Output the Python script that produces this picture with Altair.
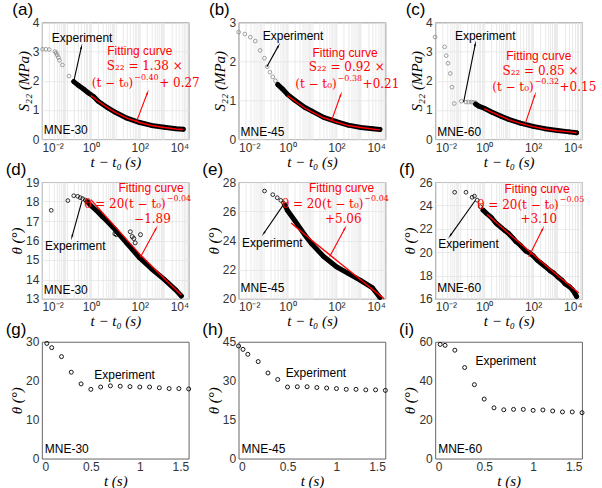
import math
import altair as alt
import pandas as pd

# ---------------- data ----------------
# (a) MNE-30, S22 vs t-t0
a_early_t = [0.0106, 0.0145, 0.02, 0.034, 0.038, 0.042, 0.047, 0.052, 0.069, 0.128, 0.2]
a_early_y = [3.08, 3.08, 3.07, 3.0, 2.95, 2.88, 2.8, 2.7, 2.54, 2.16, 1.98]
a_dense_t = [0.2, 0.3, 0.5, 0.8, 1.3, 2, 5, 10, 30, 100, 300, 1000, 3000, 6000]
a_dense_y = [1.97, 1.85, 1.72, 1.58, 1.46, 1.3, 1.07, 0.92, 0.72, 0.57, 0.47, 0.41, 0.36, 0.34]
a_fit_t = [1, 2, 5, 10, 30, 100, 300, 1000, 3000, 6000]
a_fit_y = [1.5, 1.3, 1.07, 0.92, 0.72, 0.57, 0.47, 0.4, 0.35, 0.33]

# (b) MNE-45
b_early_t = [0.01, 0.018, 0.03, 0.048, 0.076, 0.114, 0.147, 0.19, 0.25, 0.32, 0.4]
b_early_y = [2.75, 2.7, 2.62, 2.52, 2.28, 2.08, 1.86, 1.72, 1.6, 1.5, 1.42]
b_dense_t = [0.4, 0.6, 1, 2, 5, 10, 30, 100, 300, 1000, 3000, 6000]
b_dense_y = [1.4, 1.3, 1.15, 1.0, 0.82, 0.72, 0.56, 0.45, 0.36, 0.3, 0.27, 0.25]
b_fit_t = [1, 2, 5, 10, 30, 100, 300, 1000, 3000, 6000]
b_fit_y = [1.12, 0.98, 0.8, 0.7, 0.55, 0.44, 0.35, 0.3, 0.26, 0.24]

# (c) MNE-60
c_early_t = [0.0098, 0.024, 0.028, 0.033, 0.041, 0.048, 0.06, 0.116, 0.18, 0.23, 0.3, 0.36, 0.44]
c_early_y = [3.5, 3.16, 2.86, 2.6, 2.25, 1.78, 1.22, 1.3, 1.27, 1.27, 1.27, 1.26, 1.25]
c_dense_t = [0.45, 0.6, 1, 2, 5, 10, 30, 100, 300, 1000, 3000, 6000]
c_dense_y = [1.2, 1.13, 1.06, 0.93, 0.78, 0.68, 0.55, 0.44, 0.36, 0.3, 0.25, 0.22]
c_fit_t = [1, 2, 5, 10, 30, 100, 300, 1000, 3000, 6000]
c_fit_y = [1.05, 0.93, 0.78, 0.67, 0.54, 0.43, 0.35, 0.29, 0.25, 0.22]

# (d) MNE-30, theta vs t-t0
d_early_t = [0.024, 0.115, 0.2, 0.29, 0.37, 0.46, 0.59, 0.7]
d_early_y = [17.55, 18.05, 18.3, 18.27, 18.2, 18.15, 18.08, 18.0]
d_dense_t = [0.7, 1, 2, 3, 5, 10, 30, 100, 300, 1000, 3000, 5000]
d_dense_y = [18.0, 17.8, 17.45, 17.22, 16.95, 16.55, 15.85, 15.1, 14.55, 14.0, 13.45, 13.15]
d_out_t = [9.6, 11, 41, 49, 57, 65, 107]
d_out_y = [16.35, 16.3, 16.45, 16.2, 16.1, 15.88, 16.3]
d_fit_t = [1, 10, 100, 1000, 5000]
d_fit_y = [18.1, 16.7, 15.3, 14.05, 13.2]

# (e) MNE-45
e_early_t = [0.115, 0.25, 0.38, 0.53, 0.68]
e_early_y = [27.39, 27.14, 26.93, 26.75, 26.57]
e_dense_t = [0.8, 1, 2, 5, 10, 30, 100, 300, 1000, 3000, 6000]
e_dense_y = [26.4, 26.05, 25.35, 24.4, 23.75, 22.9, 22.2, 21.75, 21.25, 20.75, 20.1]
e_fit_t = [1.4, 10, 100, 1000, 9000]
e_fit_y = [25.2, 24.0, 22.65, 21.3, 20.0]

# (f) MNE-60
f_early_t = [0.062, 0.18, 0.32, 0.4, 0.52, 0.7]
f_early_y = [25.13, 25.13, 24.7, 24.8, 24.45, 23.9]
f_dense_t = [0.9, 1.2, 2, 3, 5, 7, 10, 15, 20, 30, 50, 70, 100, 150, 200, 300, 500, 700,
             1000, 1500, 2000, 3000, 4000, 5000, 6000]
f_dense_y = [23.6, 23.35, 22.95, 22.5, 22.1, 21.85, 21.6, 21.2, 20.9, 20.6, 20.1, 19.95, 19.7,
             19.3, 19.1, 18.8, 18.4, 18.2, 17.9, 17.6, 17.3, 17.05, 16.8, 16.5, 16.2]
f_fit_t = [1.3, 10, 100, 1000, 7400]
f_fit_y = [23.25, 21.6, 19.8, 18.0, 16.5]

# (g)-(i) theta vs t
g_t = [0.05, 0.1, 0.2, 0.3, 0.4, 0.5, 0.6, 0.7, 0.8, 0.9, 1.0, 1.1, 1.2, 1.3, 1.4, 1.5]
g_y = [29.6, 28.5, 26.2, 22.2, 19.2, 17.8, 18.4, 18.7, 18.6, 18.5, 18.4, 18.4, 18.2, 18.0, 18.0, 17.9]
h_t = [0.0, 0.045, 0.094, 0.2, 0.3, 0.4, 0.5, 0.6, 0.7, 0.8, 0.9, 1.0, 1.1, 1.2, 1.3, 1.4, 1.5]
h_y = [43.4, 42.1, 40.2, 37.4, 33.0, 30.5, 27.6, 27.7, 27.7, 27.4, 27.2, 27.0, 26.7, 26.7, 26.5, 26.5, 26.3]
i_t = [0.05, 0.1, 0.2, 0.3, 0.4, 0.5, 0.6, 0.7, 0.8, 0.9, 1.0, 1.1, 1.2, 1.3, 1.4, 1.5]
i_y = [58.7, 58.2, 55.7, 46.8, 38.0, 30.6, 26.1, 25.1, 25.3, 25.3, 24.8, 25.0, 24.5, 24.0, 24.0, 23.6]

# axis domains / ticks
a_ydom, a_yticks = [0, 4], [0, 1, 2, 3, 4]
b_ydom, b_yticks = [0, 3], [0, 1, 2, 3]
c_ydom, c_yticks = [0, 4], [0, 1, 2, 3, 4]
d_ydom, d_yticks = [13, 19], [13, 14, 15, 16, 17, 18, 19]
e_ydom, e_yticks = [20, 28], [20, 22, 24, 26, 28]
f_ydom, f_yticks = [16, 26], [16, 18, 20, 22, 24, 26]
g_ydom, g_yticks = [0, 30], [0, 10, 20, 30]
h_ydom, h_yticks = [0, 45], [0, 15, 30, 45]
i_ydom, i_yticks = [0, 60], [0, 20, 40, 60]
lin_xticks = [0, 0.5, 1, 1.5]

# annotation texts (x, y, text, kind); "base"/"sup"/"tail" share the anchor where the
# exponent begins
a_texts = [(0.44, 3.47, "Experiment", "exp"), (100, 3.02, "Fitting curve", "fit"),
           (160, 2.49, "S₂₂ = 1.38 ×", "frm"),
           (54, 1.93, "(t − t₀)", "base"), (54, 1.93, "−0.40", "sup"), (54, 1.93, "+ 0.27", "tail"),
           (0.012, 0.3, "MNE-30", "mne")]
b_texts = [(1.68, 2.66, "Experiment", "exp"), (225, 2.22, "Fitting curve", "fit"),
           (265, 1.85, "S₂₂ = 0.92 ×", "frm"),
           (102, 1.42, "(t − t₀)", "base"), (102, 1.42, "−0.38", "sup"), (102, 1.42, "+0.21", "tail"),
           (0.012, 0.19, "MNE-45", "mne")]
c_texts = [(1.1, 3.53, "Experiment", "exp"), (170, 2.86, "Fitting curve", "fit"),
           (200, 2.35, "S₂₂ = 0.85 ×", "frm"),
           (105, 1.78, "(t − t₀)", "base"), (105, 1.78, "−0.32", "sup"), (105, 1.78, "+0.15", "tail"),
           (0.012, 0.26, "MNE-60", "mne")]
d_texts = [(290, 18.72, "Fitting curve", "fit"),
           (1150, 17.9, "θ = 20(t − t₀)", "base"), (1150, 17.9, "−0.04", "sup"),
           (330, 17.13, "−1.89", "frm"), (0.23, 15.7, "Experiment", "exp"),
           (0.012, 13.47, "MNE-30", "mne")]
e_texts = [(162, 27.6, "Fitting curve", "fit"),
           (1260, 26.48, "θ = 20(t − t₀)", "base"), (1260, 26.48, "−0.04", "sup"),
           (190, 25.5, "+5.06", "frm"), (0.24, 23.8, "Experiment", "exp"),
           (0.012, 20.74, "MNE-45", "mne")]
f_texts = [(145, 25.4, "Fitting curve", "fit"),
           (1120, 24.03, "θ = 20(t − t₀)", "base"), (1120, 24.03, "−0.05", "sup"),
           (170, 22.8, "+3.10", "frm"), (0.23, 20.66, "Experiment", "exp"),
           (0.012, 16.93, "MNE-60", "mne")]
g_texts = [(0.845, 21.6, "Experiment", "exp"), (0.03, 2.5, "MNE-30", "mne")]
h_texts = [(0.79, 33.0, "Experiment", "exp"), (0.03, 3.8, "MNE-45", "mne")]
i_texts = [(0.72, 49.9, "Experiment", "exp"), (0.03, 5.0, "MNE-60", "mne")]

# arrows: (tail, head, colour kind)
a_arrows = [((0.2, 1.98), (0.41, 3.15), "k"), ((74, 0.61), (204, 1.58), "r")]
b_arrows = [((0.143, 1.86), (0.42, 2.39), "k"), ((64, 0.49), (150, 1.14), "r")]
c_arrows = [((0.144, 1.27), (0.43, 3.25), "k"), ((48, 0.54), (117, 1.5), "r")]
d_arrows = [((0.43, 18.02), (0.17, 16.2), "k"), ((107, 15.15), (457, 16.6), "r")]
e_arrows = [((0.73, 26.53), (0.108, 24.5), "k"), ((53, 22.9), (220, 24.83), "r")]
f_arrows = [((0.43, 24.43), (0.041, 21.42), "k"), ((66, 19.6), (245, 21.98), "r")]

# ---------------- styling / helpers ----------------
W, H = 147, 117
SANS = "Liberation Sans"
SERIF = "Liberation Serif"
MATH = "DejaVu Serif"
RED = "#ff0000"
GRAY = "#8a8a8a"

LOG_TICKS = [m * 10.0 ** e for e in range(-2, 4) for m in range(1, 10)] + [10000.0]
LOG_LABEL = ("datum.value == 0.01 ? '10⁻²' : datum.value == 1 ? '10⁰' : "
             "datum.value == 100 ? '10²' : datum.value == 10000 ? '10⁴' : ''")

TEXT_STYLE = {
    "exp": dict(font=SANS, fontSize=12, color="black", align="center"),
    "fit": dict(font=SANS, fontSize=12, color=RED, align="center"),
    "frm": dict(font=MATH, fontSize=12, color=RED, align="center"),
    "base": dict(font=MATH, fontSize=12, color=RED, align="right"),
    "sup": dict(font=MATH, fontSize=8, color=RED, align="left", dy=-5, dx=1),
    "tail": dict(font=MATH, fontSize=12, color=RED, align="left", dx=26),
    "mne": dict(font=SANS, fontSize=12, color="black", align="left"),
}


def make_panel(letter, log, ydom, yticks, ytitle, texts, arrows,
               early=None, early_color="black", dense=None, outliers=None, fit=None,
               points=None):
    if log:
        xs = alt.Scale(type="log", domain=[0.01, 10000], nice=False)
        xaxis = alt.Axis(values=LOG_TICKS, labelExpr=LOG_LABEL, title="t − t₀ (s)",
                         grid=True, gridColor="#e4e4e4", gridWidth=0.8, labelOverlap=False)
        yaxis = alt.Axis(values=yticks, title=ytitle, grid=True, gridColor="#e4e4e4",
                         gridWidth=0.8)
    else:
        xs = alt.Scale(domain=[0, 1.5], nice=False)
        xaxis = alt.Axis(values=lin_xticks, format="~g", title="t (s)", grid=False)
        yaxis = alt.Axis(values=yticks, title=ytitle, grid=False)
    ys = alt.Scale(domain=ydom, nice=False)

    def X(f="x"):
        return alt.X(f + ":Q", scale=xs, axis=xaxis)

    def Y(f="y"):
        return alt.Y(f + ":Q", scale=ys, axis=yaxis)

    def px(v):
        if log:
            return (math.log10(v) + 2) / 6 * W
        return v / 1.5 * W

    def py(v):
        return (ydom[1] - v) / (ydom[1] - ydom[0]) * H

    layers = []
    if early is not None:
        df = pd.DataFrame({"x": early[0], "y": early[1]})
        layers.append(alt.Chart(df).mark_point(shape="circle", filled=False, size=14,
                                               strokeWidth=0.8, color=early_color, opacity=1)
                      .encode(x=X(), y=Y()))
    if dense is not None:
        df = pd.DataFrame({"x": dense[0], "y": dense[1]})
        layers.append(alt.Chart(df).mark_line(color="black", strokeWidth=5, strokeCap="round",
                                              strokeJoin="round")
                      .encode(x=X(), y=Y()))
        layers.append(alt.Chart(df).mark_point(shape="circle", filled=False, size=16,
                                               strokeWidth=0.8, color="black", opacity=1)
                      .encode(x=X(), y=Y()))
    if outliers is not None:
        df = pd.DataFrame({"x": outliers[0], "y": outliers[1]})
        layers.append(alt.Chart(df).mark_point(shape="circle", filled=False, size=16,
                                               strokeWidth=0.8, color="black", opacity=1)
                      .encode(x=X(), y=Y()))
    if points is not None:
        df = pd.DataFrame({"x": points[0], "y": points[1]})
        layers.append(alt.Chart(df).mark_point(shape="circle", filled=False, size=16,
                                               strokeWidth=0.9, color="black", opacity=1)
                      .encode(x=X(), y=Y()))
    if fit is not None:
        df = pd.DataFrame({"x": fit[0], "y": fit[1]})
        layers.append(alt.Chart(df).mark_line(color=RED, strokeWidth=1.4)
                      .encode(x=X(), y=Y()))
    for tail, head, ck in arrows:
        col = "black" if ck == "k" else RED
        df = pd.DataFrame({"x": [tail[0]], "y": [tail[1]], "x2": [head[0]], "y2": [head[1]]})
        dx = px(head[0]) - px(tail[0])
        dy = py(head[1]) - py(tail[1])
        ang = (math.degrees(math.atan2(dx, -dy)) + 360) % 360
        layers.append(alt.Chart(df).mark_rule(color=col, strokeWidth=1.1)
                      .encode(x=X(), y=Y(), x2="x2:Q", y2="y2:Q"))
        layers.append(alt.Chart(df).mark_point(shape="wedge", filled=True, color=col, size=45,
                                               angle=ang, opacity=1)
                      .encode(x=X("x2"), y=Y("y2")))
    for kind in ["exp", "fit", "frm", "base", "sup", "tail", "mne"]:
        rows = [t for t in texts if t[3] == kind]
        if not rows:
            continue
        df = pd.DataFrame({"x": [r[0] for r in rows], "y": [r[1] for r in rows],
                           "txt": [r[2] for r in rows]})
        layers.append(alt.Chart(df).mark_text(baseline="middle", **TEXT_STYLE[kind])
                      .encode(x=X(), y=Y(), text="txt:N"))
    return alt.layer(*layers).properties(
        width=W, height=H,
        title=alt.TitleParams(text=f"({letter})", frame="bounds", anchor="start", dx=-4,
                              offset=-3))


ytitle_s = "S₂₂ (MPa)"
ytitle_t = "θ (°)"

panels = [
    make_panel("a", True, a_ydom, a_yticks, ytitle_s, a_texts, a_arrows,
               early=(a_early_t, a_early_y), early_color=GRAY, dense=(a_dense_t, a_dense_y),
               fit=(a_fit_t, a_fit_y)),
    make_panel("b", True, b_ydom, b_yticks, ytitle_s, b_texts, b_arrows,
               early=(b_early_t, b_early_y), early_color=GRAY, dense=(b_dense_t, b_dense_y),
               fit=(b_fit_t, b_fit_y)),
    make_panel("c", True, c_ydom, c_yticks, ytitle_s, c_texts, c_arrows,
               early=(c_early_t, c_early_y), early_color=GRAY, dense=(c_dense_t, c_dense_y),
               fit=(c_fit_t, c_fit_y)),
    make_panel("d", True, d_ydom, d_yticks, ytitle_t, d_texts, d_arrows,
               early=(d_early_t, d_early_y), dense=(d_dense_t, d_dense_y),
               outliers=(d_out_t, d_out_y), fit=(d_fit_t, d_fit_y)),
    make_panel("e", True, e_ydom, e_yticks, ytitle_t, e_texts, e_arrows,
               early=(e_early_t, e_early_y), dense=(e_dense_t, e_dense_y),
               fit=(e_fit_t, e_fit_y)),
    make_panel("f", True, f_ydom, f_yticks, ytitle_t, f_texts, f_arrows,
               early=(f_early_t, f_early_y), dense=(f_dense_t, f_dense_y),
               fit=(f_fit_t, f_fit_y)),
    make_panel("g", False, g_ydom, g_yticks, ytitle_t, g_texts, [], points=(g_t, g_y)),
    make_panel("h", False, h_ydom, h_yticks, ytitle_t, h_texts, [], points=(h_t, h_y)),
    make_panel("i", False, i_ydom, i_yticks, ytitle_t, i_texts, [], points=(i_t, i_y)),
]

chart = alt.concat(*panels, columns=3, spacing={"row": 43, "column": 50}, bounds="flush").properties(
    padding={"left": 5, "top": 0, "right": 5, "bottom": 0}
).configure_view(
    stroke="#555555", strokeWidth=0.9
).configure_axis(
    domain=False, ticks=False,
    labelFont=SANS, labelFontSize=12, labelColor="#333333", labelPadding=3,
    titleFont=SERIF, titleFontStyle="italic", titleFontSize=15, titleFontWeight="normal",
    titleColor="black", titlePadding=1
).configure_title(
    font=SANS, fontSize=17, fontWeight="normal", color="black"
)

chart.save("out.html", embed_options={"renderer": "svg", "actions": False})
